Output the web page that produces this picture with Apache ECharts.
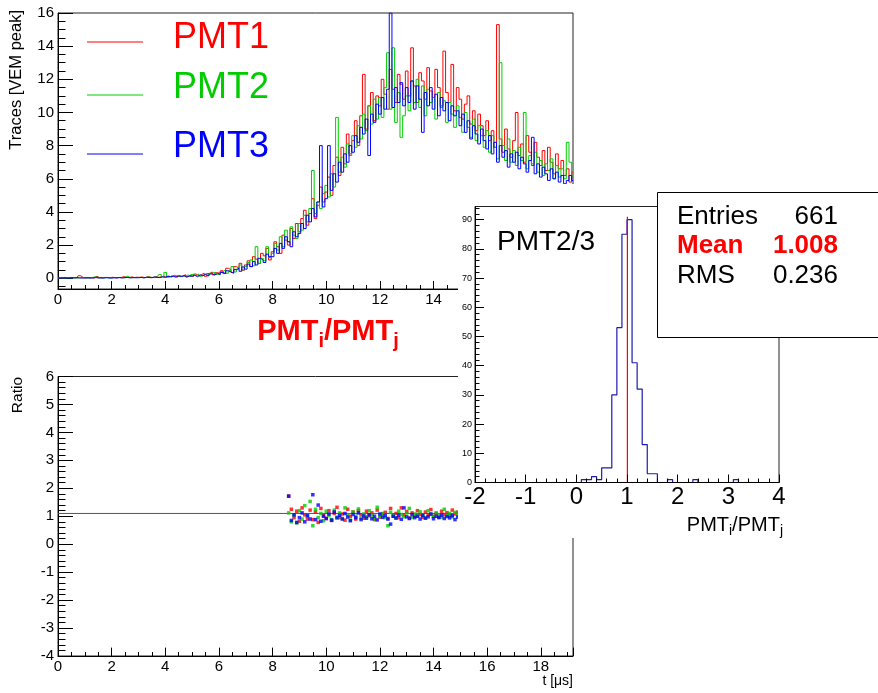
<!DOCTYPE html>
<html><head><meta charset="utf-8">
<script src="https://cdn.jsdelivr.net/npm/echarts@6/dist/echarts.min.js"></script>
<style>html,body{margin:0;padding:0;background:#fff}#c{width:878px;height:693px}</style>
</head><body><div id="c"></div>
<script>
const FONT = '"Liberation Sans", Arial, sans-serif';

// ---- trace data (sampled every 0.1 us) ----
const traceStep = 0.1;
const pmt1 = [
0.02,0.03,0.01,0.04,0.02,0.05,0.03,0.02,0.15,0.03,
0.02,0.04,0.03,0.01,0.12,0.03,0.02,0.05,0.04,0.03,
0.06,0.02,0.04,0.03,0.1,0.05,0.03,0.08,0.04,0.06,
0.05,0.07,0.03,0.09,0.06,0.04,0.1,0.05,0.08,0.12,
0.06,0.12,0.08,0.18,0.07,0.15,0.1,0.22,0.09,0.16,
0.1,0.25,0.14,0.22,0.3,0.12,0.28,0.38,0.2,0.33,
0.3,0.45,0.28,0.6,0.52,0.35,0.7,0.62,0.9,0.48,
0.8,1.05,0.7,1.3,1.15,0.9,1.5,1.35,1.8,1.1,
1.6,2.2,1.9,1.5,2.6,2.3,2.0,3.0,2.4,3.3,
2.8,3.6,4.1,3.2,3.9,4.8,3.6,4.4,5.5,4.6,
5.2,6.1,5.0,6.8,7.3,6.2,7.9,6.9,8.7,7.5,
8.3,9.5,8.0,9.8,12.3,9.0,10.4,11.2,9.5,11.0,
10.4,12.0,11.1,10.2,12.6,11.4,10.6,12.3,11.7,10.8,
12.5,11.0,13.9,11.6,10.6,12.4,11.9,10.8,12.7,11.3,
10.9,12.6,11.5,10.4,13.7,11.2,10.6,12.9,10.1,11.5,
10.8,9.6,10.5,11.0,9.3,10.1,8.9,9.9,9.2,8.6,
9.5,8.3,8.9,7.9,15.3,8.4,7.6,9.0,7.8,7.3,
8.3,10.0,7.4,8.1,7.0,8.6,7.6,6.8,8.2,7.3,
6.8,7.7,6.5,7.9,7.0,6.3,7.5,6.6,7.1,6.2,
6.6,5.8,6.4];
const pmt2 = [
0.01,0.03,0.02,0.01,0.04,0.02,0.03,0.01,0.02,0.04,
0.03,0.01,0.02,0.04,0.1,0.02,0.03,0.02,0.05,0.03,
0.02,0.04,0.03,0.05,0.02,0.06,0.12,0.04,0.03,0.05,
0.04,0.06,0.03,0.05,0.08,0.04,0.07,0.05,0.22,0.09,
0.35,0.06,0.16,0.1,0.17,0.08,0.14,0.12,0.2,0.09,
0.22,0.14,0.26,0.12,0.2,0.28,0.17,0.3,0.36,0.22,
0.25,0.4,0.52,0.3,0.45,0.7,0.38,0.55,0.8,0.5,
0.7,0.95,1.1,0.75,1.9,0.9,1.2,1.05,1.9,1.25,
1.5,2.1,1.7,2.5,1.9,2.9,2.2,3.1,2.6,2.4,
3.3,2.9,3.8,3.4,4.2,6.5,3.9,4.6,4.2,5.1,
5.6,4.9,6.3,5.5,9.7,6.4,7.3,6.7,8.1,7.4,
8.6,7.9,9.2,8.4,9.9,8.9,10.4,9.3,10.8,9.6,
10.9,9.7,11.5,13.6,10.2,13.9,9.4,11.2,8.5,9.8,
11.0,10.1,11.9,10.6,12.0,10.3,11.6,9.8,11.4,10.6,
10.9,9.6,11.2,10.3,10.7,9.4,10.6,9.9,9.1,10.4,
9.7,8.8,10.0,9.1,8.5,9.6,8.3,9.2,8.6,7.9,
8.9,7.6,8.6,7.9,7.2,13.0,8.0,7.1,8.4,7.0,
7.7,6.8,7.9,7.1,10.0,6.6,7.4,6.9,7.6,6.4,
7.1,6.2,6.9,6.5,7.2,6.0,6.8,6.1,6.6,6.0,
8.2,7.0,6.1];
const pmt3 = [
0.02,0.01,0.03,0.02,0.01,0.03,0.02,0.04,0.02,0.01,
0.02,0.03,0.01,0.02,0.04,0.02,0.03,0.01,0.03,0.02,
0.01,0.03,0.02,0.04,0.02,0.03,0.05,0.02,0.04,0.03,
0.03,0.05,0.02,0.06,0.04,0.03,0.07,0.05,0.04,0.08,
0.05,0.13,0.08,0.12,0.06,0.15,0.1,0.16,0.07,0.14,
0.12,0.18,0.09,0.2,0.15,0.24,0.12,0.26,0.2,0.3,
0.22,0.35,0.28,0.45,0.38,0.3,0.52,0.6,0.42,0.68,
0.55,0.85,0.7,1.0,0.8,1.2,1.1,0.95,1.45,1.3,
1.3,1.8,1.5,2.1,1.8,2.5,2.2,1.9,2.8,2.5,
2.7,3.3,3.0,3.8,3.4,4.2,3.7,4.6,8.0,4.3,
4.8,8.0,5.3,6.3,5.8,7.0,6.4,7.5,7.0,8.0,
7.6,8.6,8.2,9.1,8.7,9.6,7.4,9.9,9.4,10.5,
9.9,10.9,10.2,11.4,16.0,10.3,11.5,10.6,11.8,10.4,
11.5,10.6,11.9,10.2,11.6,10.8,8.8,11.2,10.4,11.5,
10.2,11.1,9.8,10.9,10.1,10.6,9.5,10.4,9.8,10.1,
9.2,9.9,8.8,9.5,8.4,9.2,8.7,8.1,9.0,8.3,
7.8,8.6,7.5,8.2,7.0,8.0,7.3,7.7,6.7,7.5,
7.0,7.6,6.6,7.3,6.9,6.4,7.1,8.5,6.3,6.9,
6.1,6.7,6.3,5.9,6.6,6.0,6.4,5.8,6.2,5.7,
5.9,6.2,5.9];

// ---- ratio data (sampled every 0.1 us from 8.6 us) ----
const ratioStart = 8.6;
const ratioStep = 0.1;
const ratioRed = [
1.72,1.25,0.95,1.18,0.82,1.3,1.05,0.9,1.22,0.88,
1.15,0.78,1.28,1.02,0.92,1.2,0.85,1.1,1.32,0.95,
1.08,0.86,1.25,1.0,1.15,0.9,1.2,1.05,0.93,1.18,
1.02,1.12,0.88,1.22,0.97,1.08,1.14,0.92,1.28,1.0,
1.1,0.95,1.3,1.04,1.17,0.94,1.12,1.0,1.2,1.06,
0.96,1.15,1.05,1.24,1.0,1.1,0.97,1.18,1.06,1.13,
1.02,1.22,1.08,1.15];
const ratioGreen = [
1.12,0.8,1.05,0.76,1.2,0.9,1.38,1.0,1.53,0.66,
1.25,0.95,1.1,0.84,1.18,1.02,0.88,1.22,0.97,1.12,
0.92,1.3,1.05,0.86,1.15,1.0,1.26,0.93,1.08,0.98,
1.2,1.04,0.9,1.32,1.0,1.1,0.95,0.66,1.14,1.02,
0.93,1.18,1.06,0.98,1.12,1.28,0.96,1.08,1.02,1.16,
1.04,0.94,1.2,1.07,0.99,1.12,1.05,0.97,1.25,1.03,
1.1,0.98,1.14,1.06];
const ratioBlue = [
1.72,0.85,1.05,0.78,0.95,1.12,0.8,1.02,0.9,1.77,
0.88,1.4,0.82,1.0,0.92,1.08,0.86,1.15,0.94,1.03,
0.9,1.1,0.97,0.84,1.06,0.95,1.12,0.88,1.01,0.93,
1.05,0.91,1.0,0.87,1.08,0.96,1.02,0.9,0.72,1.0,
0.94,1.04,0.89,1.3,0.98,0.92,1.06,0.95,1.0,0.9,
1.03,0.93,0.98,1.08,0.91,1.0,0.95,1.04,0.92,0.99,
0.94,1.02,0.88,0.97];
const ratioRefLevel = 1.1;
const timeRange = [0, 19.2];

// ---- histogram PMT2/3 ----
const histLow = -2, histHigh = 4, histBinWidth = 0.1;
const histCounts = [
0,0,0,0,0,0,0,0,0,0, 0,0,0,0,0,0,0,0,0,0,
0,1,1,2,1,5,5,30,53,85, 90,41,32,13,3,3,0,0,1,0,
0,0,0,1,0,0,0,0,0,0, 0,1,0,0,0,0,0,0,0,0];
const histMean = 1.008, histMeanTop = 91;
const statsLabels = ['Entries', 'Mean', 'RMS'];
const statsValues = ['661', '1.008', '0.236'];

// ---- ticks ----
const traceYLabels = [0,2,4,6,8,10,12,14,16];
const traceYMinor = []; for (let v = -0.5; v <= 16.001; v += 0.5) traceYMinor.push(+v.toFixed(2));
const histYLabels = [0,10,20,30,40,50,60,70,80,90];
const histYMinor = []; for (let v = 0; v <= 94; v += 2) histYMinor.push(v);

const RED = '#ff0000', GREEN = '#00cc00', BLUE = '#0000ff', HIST = '#1c1cb0';

const tData = arr => arr.map((v, i) => [+(i * traceStep).toFixed(2), v]);
const rData = arr => arr.map((v, i) => [+(ratioStart + i * ratioStep).toFixed(2), v]);
const histData = histCounts.map((c, k) => [+(histLow + k * histBinWidth).toFixed(2), c]);
histData.push([histHigh, histCounts[histCounts.length - 1]]);

const axisCol = '#000';
function xAx(grid, min, max, interval, opts) {
  return Object.assign({
    gridIndex: grid, type: 'value', min, max, interval,
    axisLine: {show: true, onZero: false, lineStyle: {color: axisCol, width: 1}},
    axisTick: {show: true, inside: true, length: 8, lineStyle: {color: axisCol}},
    minorTick: {show: true, splitNumber: 4, length: 4, lineStyle: {color: axisCol}},
    axisLabel: {show: true, color: '#000', fontFamily: FONT, fontSize: 15, margin: 3, showMaxLabel: false},
    splitLine: {show: false}, minorSplitLine: {show: false}
  }, opts || {});
}

const option = {
  animation: false,
  backgroundColor: '#fff',
  grid: [
    {left: 58, top: 13, width: 515, height: 276, show: true, borderColor: '#222', borderWidth: 1, backgroundColor: 'transparent', outerBoundsMode: 'none', z: 0},
    {left: 58, top: 376.5, width: 515, height: 279.5, show: true, borderColor: '#222', borderWidth: 1, backgroundColor: 'transparent', outerBoundsMode: 'none', z: 0},
    {left: 475, top: 206.5, width: 304, height: 276, show: true, borderColor: '#222', borderWidth: 1, backgroundColor: 'transparent', outerBoundsMode: 'none', z: 102}
  ],
  xAxis: [
    xAx(0, timeRange[0], timeRange[1], 2),
    xAx(1, timeRange[0], timeRange[1], 2, {axisTick: {show: true, inside: true, length: 8.4, lineStyle: {color: axisCol}}}),
    xAx(2, histLow, histHigh, 1, {
      z: 102,
      minorTick: {show: true, splitNumber: 5, length: 4, lineStyle: {color: axisCol}},
      axisLabel: {show: true, color: '#000', fontFamily: FONT, fontSize: 24, margin: 3}
    })
  ],
  yAxis: [
    {gridIndex: 0, type: 'value', position: 'left', min: -0.65, max: 16,
     axisLine: {show: true, onZero: false, lineStyle: {color: axisCol}},
     axisTick: {show: true, inside: true, length: 15, customValues: traceYLabels, lineStyle: {color: axisCol}},
     axisLabel: {show: true, customValues: traceYLabels, color: '#000', fontFamily: FONT, fontSize: 15, margin: 4},
     splitLine: {show: false}},
    {gridIndex: 0, type: 'value', position: 'left', offset: 0, min: -0.65, max: 16,
     axisLine: {show: false, onZero: false},
     axisTick: {show: true, inside: true, length: 7.5, customValues: traceYMinor, lineStyle: {color: axisCol}},
     axisLabel: {show: false}, splitLine: {show: false}},
    {gridIndex: 1, type: 'value', position: 'left', min: -4, max: 6, interval: 1,
     axisLine: {show: true, onZero: false, lineStyle: {color: axisCol}},
     axisTick: {show: true, inside: true, length: 15, lineStyle: {color: axisCol}},
     minorTick: {show: true, splitNumber: 5, length: 7.5, lineStyle: {color: axisCol}},
     axisLabel: {show: true, color: '#000', fontFamily: FONT, fontSize: 15, margin: 4},
     splitLine: {show: false}, minorSplitLine: {show: false}},
    {gridIndex: 2, type: 'value', position: 'left', min: 0, max: 94.5, z: 102,
     axisLine: {show: true, onZero: false, lineStyle: {color: axisCol}},
     axisTick: {show: true, inside: true, length: 9, customValues: histYLabels, lineStyle: {color: axisCol}},
     axisLabel: {show: true, customValues: histYLabels, color: '#000', fontFamily: FONT, fontSize: 9, margin: 3},
     splitLine: {show: false}},
    {gridIndex: 2, type: 'value', position: 'left', offset: 0, min: 0, max: 94.5, z: 102,
     axisLine: {show: false, onZero: false},
     axisTick: {show: true, inside: true, length: 4.5, customValues: histYMinor, lineStyle: {color: axisCol}},
     axisLabel: {show: false}, splitLine: {show: false}}
  ],
  series: [
    {type: 'line', name: 'PMT1', xAxisIndex: 0, yAxisIndex: 0, data: tData(pmt1), step: 'middle', showSymbol: false, silent: true, lineStyle: {color: RED, width: 1}, itemStyle: {color: RED}, z: 2},
    {type: 'line', name: 'PMT2', xAxisIndex: 0, yAxisIndex: 0, data: tData(pmt2), step: 'middle', showSymbol: false, silent: true, lineStyle: {color: GREEN, width: 1}, itemStyle: {color: GREEN}, z: 3},
    {type: 'line', name: 'PMT3', xAxisIndex: 0, yAxisIndex: 0, data: tData(pmt3), step: 'middle', showSymbol: false, silent: true, lineStyle: {color: BLUE, width: 1}, itemStyle: {color: BLUE}, z: 4},
    {type: 'line', xAxisIndex: 1, yAxisIndex: 2, data: [[timeRange[0], ratioRefLevel], [timeRange[1], ratioRefLevel]], showSymbol: false, silent: true, lineStyle: {color: '#555', width: 1}, z: 2},
    {type: 'scatter', xAxisIndex: 1, yAxisIndex: 2, data: rData(ratioRed), symbol: 'rect', symbolSize: 3.5, itemStyle: {color: RED}, silent: true, z: 3},
    {type: 'scatter', xAxisIndex: 1, yAxisIndex: 2, data: rData(ratioGreen), symbol: 'rect', symbolSize: 3.5, itemStyle: {color: GREEN}, silent: true, z: 4},
    {type: 'scatter', xAxisIndex: 1, yAxisIndex: 2, data: rData(ratioBlue), symbol: 'rect', symbolSize: 3.5, itemStyle: {color: BLUE}, silent: true, z: 5},
    {type: 'line', xAxisIndex: 2, yAxisIndex: 3, data: histData, step: 'end', showSymbol: false, silent: true, lineStyle: {color: HIST, width: 1.2}, z: 101},
    {type: 'line', xAxisIndex: 2, yAxisIndex: 3, data: [[histMean, 0], [histMean, histMeanTop]], showSymbol: false, silent: true, lineStyle: {color: RED, width: 1.2}, z: 101}
  ],
  graphic: {elements: [
    // axis titles
    {type: 'text', x: 16.5, y: 10, rotation: Math.PI / 2, z: 50, style: {text: 'Traces [VEM peak]', font: '16.5px ' + FONT, fill: '#000', align: 'right', verticalAlign: 'middle'}},
    {type: 'text', x: 17.5, y: 377, rotation: Math.PI / 2, z: 50, style: {text: 'Ratio', font: '15.5px ' + FONT, fill: '#000', align: 'right', verticalAlign: 'middle'}},
    {type: 'text', x: 573, y: 681, z: 50, style: {text: 't [μs]', font: '14px ' + FONT, fill: '#000', align: 'right', verticalAlign: 'middle'}},
    // legend
    {type: 'line', z: 50, shape: {x1: 87, y1: 42, x2: 143, y2: 42}, style: {stroke: RED, lineWidth: 1}},
    {type: 'line', z: 50, shape: {x1: 87, y1: 95, x2: 143, y2: 95}, style: {stroke: GREEN, lineWidth: 1}},
    {type: 'line', z: 50, shape: {x1: 87, y1: 154, x2: 143, y2: 154}, style: {stroke: BLUE, lineWidth: 1}},
    {type: 'text', x: 173, y: 38, z: 50, style: {text: 'PMT1', font: '36px ' + FONT, fill: RED, align: 'left', verticalAlign: 'middle'}},
    {type: 'text', x: 173, y: 88, z: 50, style: {text: 'PMT2', font: '36px ' + FONT, fill: GREEN, align: 'left', verticalAlign: 'middle'}},
    {type: 'text', x: 173, y: 147, z: 50, style: {text: 'PMT3', font: '36px ' + FONT, fill: BLUE, align: 'left', verticalAlign: 'middle'}},
    // title
    {type: 'text', x: 328, y: 312, z: 50, style: {
      text: '{m|PMT}{s|i}{m|/PMT}{s|j}', align: 'center', verticalAlign: 'top',
      rich: {
        m: {fontSize: 29, fontWeight: 'bold', fontFamily: FONT, fill: RED, lineHeight: 29},
        s: {fontSize: 20, fontWeight: 'bold', fontFamily: FONT, fill: RED, lineHeight: 40, padding: [18, 0, 0, 0]}
      }}},
    // inset pad
    {type: 'rect', z: 100, shape: {x: 458, y: 184, width: 420, height: 354}, style: {fill: '#fff'}},
    {type: 'text', x: 497, y: 242, z: 103, style: {text: 'PMT2/3', font: '28px ' + FONT, fill: '#000', align: 'left', verticalAlign: 'middle'}},
    {type: 'text', x: 783, y: 509.5, z: 103, style: {
      text: '{m|PMT}{s|i}{m|/PMT}{s|j}', align: 'right', verticalAlign: 'top',
      rich: {
        m: {fontSize: 20, fontFamily: FONT, fill: '#000', lineHeight: 20},
        s: {fontSize: 14, fontFamily: FONT, fill: '#000', lineHeight: 32, padding: [12, 0, 0, 0]}
      }}},
    // stats box
    {type: 'rect', z: 110, shape: {x: 657.5, y: 192.5, width: 240, height: 145}, style: {fill: '#fff', stroke: '#000', lineWidth: 1}},
    {type: 'text', x: 677, y: 217, z: 111, style: {text: statsLabels[0], font: '26px ' + FONT, fill: '#000', align: 'left', verticalAlign: 'middle'}},
    {type: 'text', x: 838, y: 217, z: 111, style: {text: statsValues[0], font: '26px ' + FONT, fill: '#000', align: 'right', verticalAlign: 'middle'}},
    {type: 'text', x: 677, y: 246, z: 111, style: {text: statsLabels[1], font: 'bold 26px ' + FONT, fill: RED, align: 'left', verticalAlign: 'middle'}},
    {type: 'text', x: 838, y: 246, z: 111, style: {text: statsValues[1], font: 'bold 26px ' + FONT, fill: RED, align: 'right', verticalAlign: 'middle'}},
    {type: 'text', x: 677, y: 276, z: 111, style: {text: statsLabels[2], font: '26px ' + FONT, fill: '#000', align: 'left', verticalAlign: 'middle'}},
    {type: 'text', x: 838, y: 276, z: 111, style: {text: statsValues[2], font: '26px ' + FONT, fill: '#000', align: 'right', verticalAlign: 'middle'}}
  ]}
};

const chart = echarts.init(document.getElementById('c'), null, {renderer: 'canvas'});
chart.setOption(option);
</script>
</body></html>
